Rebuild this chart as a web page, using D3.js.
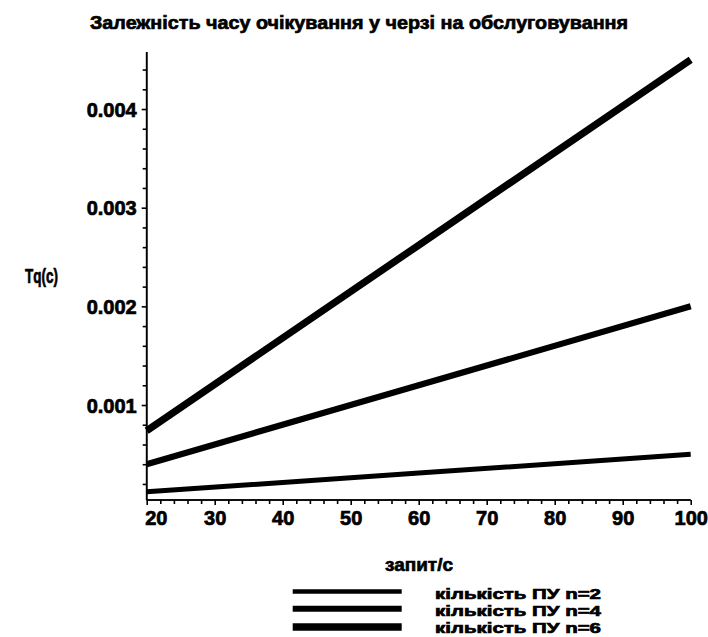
<!DOCTYPE html>
<html>
<head>
<meta charset="utf-8">
<script src="https://cdn.jsdelivr.net/npm/d3@7"></script>
<style>
  html, body { margin: 0; padding: 0; background: #fff; }
  svg { display: block; }
  text { font-family: "Liberation Sans", Arial, sans-serif; font-weight: bold; fill: #000; stroke: #000; stroke-width: 0.7px; }
</style>
</head>
<body>
<div id="chart"></div>
<script>
// ---- data ----
const xValues = [20, 60, 100];
const tqN2 = [0.00012, 0.00031, 0.0005];
const tqN4 = [0.0004, 0.0012, 0.002];
const tqN6 = [0.00074, 0.00262, 0.0045];
const seriesNames = ["кількість ПУ n=2", "кількість ПУ n=4", "кількість ПУ n=6"];
const xTicks = [20, 30, 40, 50, 60, 70, 80, 90, 100];
const yTicks = [0.001, 0.002, 0.003, 0.004];
const titleText = "Залежність часу очікування у черзі на обслуговування";
const xLabel = "запит/с";
const yLabel = "Tq(c)";

// ---- layout ----
const W = 708, H = 637;
const svg = d3.select("#chart").append("svg").attr("width", W).attr("height", H);

const x = d3.scaleLinear().domain([20, 100]).range([146.7, 690.7]);
const y = d3.scaleLinear().domain([0.0000372, 0.004578]).range([500, 52]);

// title
svg.append("text").attr("x", 90).attr("y", 29)
  .attr("font-size", 19).attr("textLength", 538).attr("lengthAdjust", "spacingAndGlyphs")
  .text(titleText);

// minor ticks
const xMinor = d3.range(20, 100.001, 2).filter(v => v % 10 !== 0);
const yMinor = d3.range(1, 23).map(i => i * 0.0002).filter(v => Math.abs(v * 1000 - Math.round(v * 1000)) > 1e-6 && y(v) > 52);

const gx = svg.append("g").attr("transform", "translate(0,500)");
gx.call(d3.axisBottom(x).tickValues(xMinor).tickSize(4).tickFormat(""));
const gxMajor = svg.append("g").attr("transform", "translate(0,500)");
gxMajor.call(d3.axisBottom(x).tickValues(xTicks).tickSize(5).tickPadding(6).tickFormat(d3.format("d")));

const gy = svg.append("g").attr("transform", "translate(146.7,0)");
gy.call(d3.axisLeft(y).tickValues(yMinor).tickSize(4).tickFormat(""));
const gyMajor = svg.append("g").attr("transform", "translate(146.7,0)");
gyMajor.call(d3.axisLeft(y).tickValues(yTicks).tickSize(5).tickPadding(5).tickFormat(d3.format(".3f")));

[gx, gxMajor, gy, gyMajor].forEach(g => {
  g.select(".domain").attr("stroke", "#000").attr("stroke-width", 1.6);
  g.selectAll(".tick line").attr("stroke", "#000").attr("stroke-width", 1.6);
});
gx.select(".domain").attr("d", `M${x(20)},0H${x(100)}`);
gxMajor.select(".domain").attr("d", `M${x(20)},0H${x(100)}`);
gy.select(".domain").attr("d", `M0,${y.range()[0]}V${y.range()[1]}`);
gyMajor.select(".domain").attr("d", `M0,${y.range()[0]}V${y.range()[1]}`);

gxMajor.selectAll(".tick text")
  .attr("font-family", "'Liberation Sans', Arial, sans-serif")
  .attr("font-weight", "bold").attr("font-size", 20).attr("fill", "#000")
  .attr("stroke", "#000").attr("stroke-width", 0.7)
  .attr("dy", "0.71em")
  .attr("text-anchor", d => d === 20 ? "start" : "middle")
  .attr("x", d => d === 20 ? -2 : 0);

gyMajor.selectAll(".tick text")
  .attr("font-family", "'Liberation Sans', Arial, sans-serif")
  .attr("font-weight", "bold").attr("font-size", 20).attr("fill", "#000")
  .attr("stroke", "#000").attr("stroke-width", 0.7)
  .attr("dy", "0.36em");

// axis labels
svg.append("text").attr("x", 25).attr("y", 283)
  .attr("font-size", 21).attr("textLength", 33).attr("lengthAdjust", "spacingAndGlyphs")
  .text(yLabel);
svg.append("text").attr("x", 385).attr("y", 571)
  .attr("font-size", 19).attr("textLength", 68).attr("lengthAdjust", "spacingAndGlyphs")
  .text(xLabel);

// lines
const allSeries = [tqN2, tqN4, tqN6];
const widths = [5, 6.2, 7.2];
const line = d3.line().x(d => x(d[0])).y(d => y(d[1]));
allSeries.forEach((s, i) => {
  svg.append("path")
    .datum(xValues.map((v, j) => [v, s[j]]))
    .attr("d", line)
    .attr("fill", "none")
    .attr("stroke", "#000")
    .attr("stroke-width", widths[i])
    .attr("stroke-linecap", "butt");
});

// legend
const legendY = [591.5, 608.7, 627];
const legendBase = [598.5, 615.5, 632.5];
const legendLineW = [4.5, 6, 7.5];
seriesNames.forEach((name, i) => {
  svg.append("line")
    .attr("x1", 292.7).attr("x2", 401.7)
    .attr("y1", legendY[i]).attr("y2", legendY[i])
    .attr("stroke", "#000").attr("stroke-width", legendLineW[i]);
  svg.append("text").attr("x", 435).attr("y", legendBase[i])
    .attr("font-size", 15).attr("textLength", 166).attr("lengthAdjust", "spacingAndGlyphs")
    .text(name);
});
</script>
</body>
</html>
